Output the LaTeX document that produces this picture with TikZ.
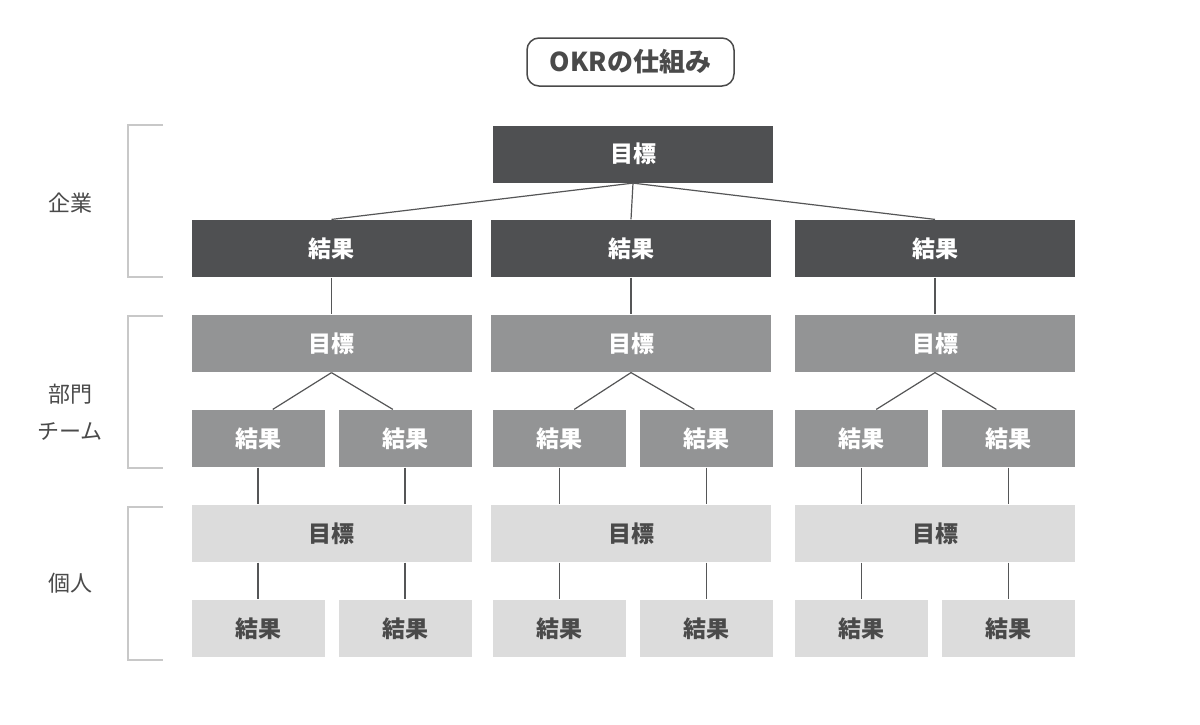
\documentclass[tikz,border=0pt]{standalone}
\usepackage{fontspec}
\setmainfont{Noto Sans CJK JP}
\usepackage{tikz}
\usetikzlibrary{positioning,calc}
\definecolor{inkdark} {HTML}{4F5052}
\definecolor{inkmid}  {HTML}{939495}
\definecolor{inklight}{HTML}{DCDCDC}
\definecolor{wire}    {HTML}{555657}
\definecolor{bracket} {HTML}{C8C8C8}
\definecolor{label}   {HTML}{4A4A4A}

\begin{document}
\begin{tikzpicture}[x=1pt, y=-1pt,
  box/.style={inner sep=0pt, minimum height=57pt, minimum width=280pt,
              font=\fontsize{23}{27}\selectfont\bfseries},
  dark/.style={box, fill=inkdark, text=white},
  mid/.style={box, fill=inkmid, text=white},
  light/.style={box, fill=inklight, text=label},
  small/.style={minimum width=133pt},
  side/.style={text=label, align=center, font=\fontsize{22}{37}\selectfont},
  every path/.style={draw=wire, line width=1.2pt}
]
\useasboundingbox[draw=none, fill=white] (0,0) rectangle (1200,724);

% title
\node[draw=label, line width=1.5pt, rounded corners=12pt, fill=white,
      minimum width=207pt, minimum height=48pt, text=label,
      font=\fontsize{26}{30}\selectfont\bfseries] (title) at (630.5,62) {OKRの仕組み};

% company level
\node[dark] (goal) at (633,154) {目標};
\foreach \c/\x/\s in {a/331.5/331.5, b/631/633, c/935/935} {
  \node[dark] (kr-\c) at (\x,248.5) {結果};
  \node[mid] (dgoal-\c) at (\x,343.5) {目標};
  \node[mid, small] (dkr1-\c) at (\s-73.5,438.5) {結果};
  \node[mid, small] (dkr2-\c) at (\s+73.5,438.5) {結果};
  \node[light] (pgoal-\c) at (\x,533.5) {目標};
  \node[light, small] (pkr1-\c) at (\s-73.5,628.5) {結果};
  \node[light, small] (pkr2-\c) at (\s+73.5,628.5) {結果};

  \draw (goal.south) -- (kr-\c.north);
  \draw (kr-\c.south) -- (dgoal-\c.north);
  \draw (dgoal-\c.south) -- ($(dkr1-\c.north west)!0.61!(dkr1-\c.north east)$);
  \draw (dgoal-\c.south) -- ($(dkr2-\c.north west)!0.41!(dkr2-\c.north east)$);
  \draw (dkr1-\c.south) -- (dkr1-\c.south |- pgoal-\c.north);
  \draw (dkr2-\c.south) -- (dkr2-\c.south |- pgoal-\c.north);
  \draw (dkr1-\c.south |- pgoal-\c.south) -- (pkr1-\c.north);
  \draw (dkr2-\c.south |- pgoal-\c.south) -- (pkr2-\c.north);
}

% level brackets
\coordinate (lv1top) at (163,125);
\coordinate (lv1bot) at (163,277);
\coordinate (lv2top) at (163,316);
\coordinate (lv2bot) at (163,468);
\coordinate (lv3top) at (163,507);
\coordinate (lv3bot) at (163,660);
\foreach \l in {1,2,3}
  \draw[draw=bracket, line width=1.5pt] (lv\l top) -- ++(-35,0) |- (lv\l bot);

\node[side] (lvcorp) at (70,203) {企業};
\node[side] (lvdept) at (70,412) {部門\\チーム};
\node[side] (lvself) at (70,583) {個人};
\end{tikzpicture}
\end{document}
